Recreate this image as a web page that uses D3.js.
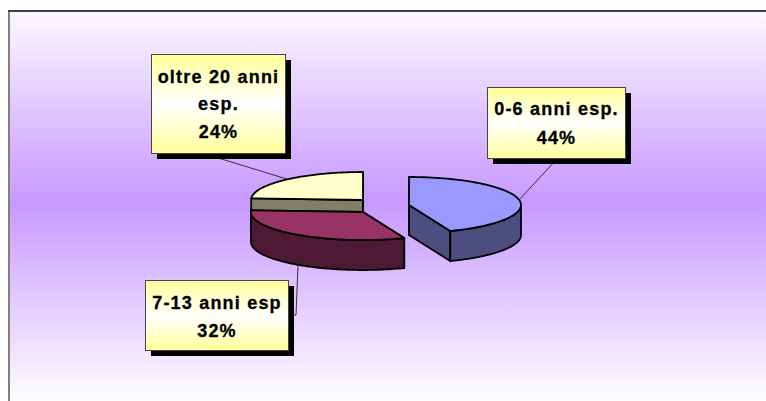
<!DOCTYPE html>
<html><head><meta charset="utf-8">
<script src="https://cdn.jsdelivr.net/npm/d3@7"></script>
<style>html,body{margin:0;padding:0;background:#fff}svg{display:block}</style></head>
<body><svg id="c" width="766" height="401"></svg>
<script>
const categories = ["0-6 anni esp.", "7-13 anni esp", "oltre 20 anni esp."];
const values = [44, 32, 24];
const labelLines = [["0-6 anni esp.", "44%"], ["7-13 anni esp", "32%"], ["oltre 20 anni", "esp.", "24%"]];
const topColors = ["#9999ff", "#993366", "#ffffcc"];
const sideColors = ["#4d4d80", "#4d1933", "#808066"];

const svg = d3.select("#c");
const defs = svg.append("defs");
const panelGrad = defs.append("linearGradient").attr("id", "panel").attr("x1", 0).attr("x2", 0).attr("y1", 0).attr("y2", 1);
[[0, "#fbf7ff"], [0.49, "#c799ff"], [1, "#fefdff"]].forEach(s => panelGrad.append("stop").attr("offset", s[0]).attr("stop-color", s[1]));
const boxGrad = defs.append("linearGradient").attr("id", "box").attr("x1", 0).attr("x2", 0).attr("y1", 0).attr("y2", 1);
[[0, "#ffff99"], [0.5, "#ffffff"], [1, "#ffff99"]].forEach(s => boxGrad.append("stop").attr("offset", s[0]).attr("stop-color", s[1]));

svg.append("rect").attr("x", 10).attr("y", 12).attr("width", 756).attr("height", 389).attr("fill", "url(#panel)");
svg.append("rect").attr("x", 8).attr("y", 10).attr("width", 2).attr("height", 391).attr("fill", "#808080");
svg.append("rect").attr("x", 8).attr("y", 10).attr("width", 758).attr("height", 2).attr("fill", "#404048");

// Pie geometry: tilted ellipse with extrusion
const rx = d3.scaleLinear().domain([0, 1]).range([0, 112]);
const ry = d3.scaleLinear().domain([0, 1]).range([0, 28]);
const depth = 30;
const centers = [[409, 205], [363, 212], [363, 200]];
const pie = d3.pie().sort(null).value(d => d)(values);

function pt(c, a, dz) { return [c[0] + rx(1) * Math.sin(a), c[1] - ry(1) * Math.cos(a) + (dz || 0)]; }
const line = d3.line();
function arcPts(c, s, e, dz) {
  return d3.range(0, 81).map(i => pt(c, s + (e - s) * i / 80, dz));
}
const order = [2, 1, 0];
const leaders = [[[519, 200], [556, 160]], [[298, 266], [296, 315], [290, 315]], [[215, 157], [290, 180]]];
svg.append("g").attr("fill", "none").attr("stroke", "#333").attr("stroke-width", 1)
  .selectAll("path").data(leaders).join("path").attr("d", d => line(d));

const g = svg.append("g").attr("stroke", "#000").attr("stroke-width", 1.8).attr("stroke-linejoin", "round");

order.forEach(i => {
  const d = pie[i], c = centers[i];
  const s = d.startAngle, e = d.endAngle;
  const cut = a => {
    const p = pt(c, a);
    return [c, p, [p[0], p[1] + depth], [c[0], c[1] + depth]];
  };
  [cut(s), cut(e)].forEach(q => g.append("path").attr("d", line(q) + "Z").attr("fill", sideColors[i]));
  const rim = arcPts(c, s, e);
  const visS = Math.max(s, Math.PI / 2), visE = Math.min(e, 3 * Math.PI / 2);
  if (visE > visS) {
    g.append("path").attr("d", line(arcPts(c, visS, visE).concat(arcPts(c, visS, visE, depth).reverse())) + "Z").attr("fill", sideColors[i]);
  }
  g.append("path").attr("d", line([c].concat(rim)) + "Z").attr("fill", topColors[i]);
});

const boxes = [
  {x: 487, y: 87, w: 138, h: 71, ty: [109, 138]},
  {x: 145, y: 280, w: 143, h: 70, ty: [303, 331]},
  {x: 151, y: 54, w: 134, h: 99, ty: [77, 104, 132]}
];
boxes.forEach((b, i) => {
  svg.append("rect").attr("x", b.x + 6).attr("y", b.y + 6).attr("width", b.w).attr("height", b.h).attr("fill", "#000");
  svg.append("rect").attr("x", b.x + .5).attr("y", b.y + .5).attr("width", b.w).attr("height", b.h)
    .attr("fill", "url(#box)").attr("stroke", "#444").attr("stroke-width", 1);
  labelLines[i].forEach((t, j) => {
    svg.append("text").attr("x", b.x + b.w / 2 + .5).attr("y", b.ty[j]).attr("dy", "0.36em")
      .attr("text-anchor", "middle").attr("font-family", "Liberation Sans, Arial, sans-serif")
      .attr("font-weight", "bold").attr("font-size", 18).attr("letter-spacing", 1.2)
      .attr("fill", "#000").attr("stroke", "#000").attr("stroke-width", 0.3).text(t);
  });
});
</script></body></html>
